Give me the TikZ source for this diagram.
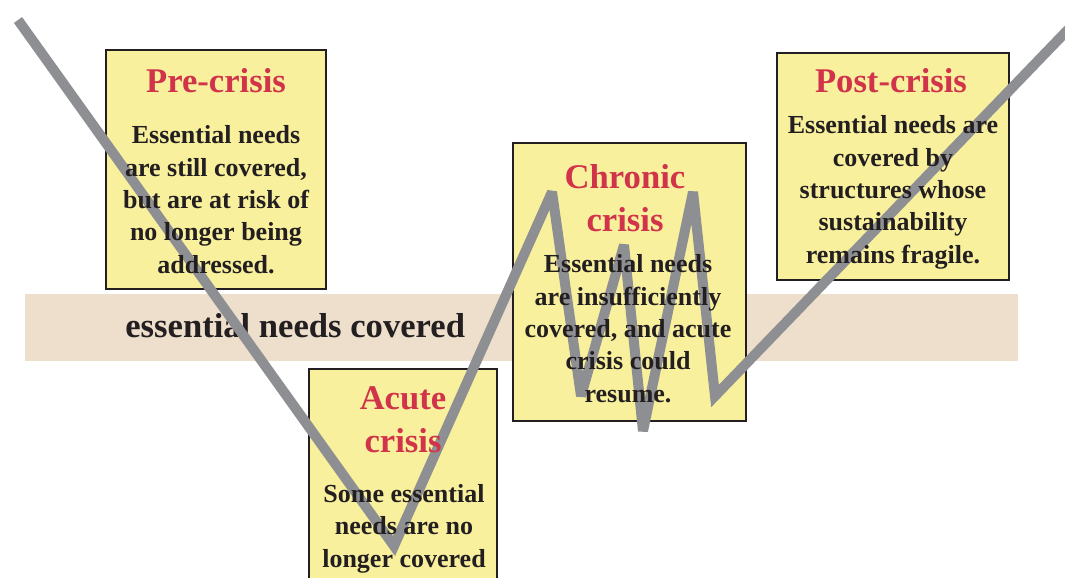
\documentclass[tikz,border=0pt]{standalone}
\usepackage{fontspec}
\setmainfont{Liberation Serif}
\definecolor{crisisred}{RGB}{208,51,74}
\definecolor{noteyellow}{RGB}{248,240,157}
\definecolor{bandbeige}{RGB}{238,223,204}
\definecolor{pathgray}{RGB}{142,143,147}
\definecolor{inkdark}{RGB}{35,31,32}
\tikzset{
  notebox/.style={draw=inkdark, line width=1.1pt, fill=noteyellow, rectangle, inner sep=0pt},
  % multi-line nodes: the base anchor sits on the last line's baseline
  phasetitle/.style={text=crisisred, align=center, anchor=base, inner sep=0pt,
    font=\fontsize{19.7}{24.4}\selectfont\bfseries},
  phasebody/.style={text=inkdark, align=center, anchor=base, inner sep=0pt,
    font=\fontsize{14.8}{18.4}\selectfont\bfseries},
  trend/.style={draw=pathgray, line width=5.7pt, line join=miter, miter limit=2.5}
}
\begin{document}
\begin{tikzpicture}[x=0.02cm, y=-0.02cm]
  \clip (0,0) rectangle (1065,578);
  \fill[white] (0,0) rectangle (1065,578);

  % band of covered needs
  \fill[bandbeige] (25,294) rectangle (1018,361);
  \node[anchor=base west, inner sep=0pt, text=inkdark,
        font=\fontsize{19.7}{24}\selectfont\bfseries] (bandlabel) at (125,337) {essential needs covered};

  % phase boxes
  \path[notebox] (106,50) rectangle (326,289) node[pos=0.5] (pre) {};
  \path[notebox] (309,369) rectangle (497,600) node[pos=0.5] (acute) {};
  \path[notebox] (513,143) rectangle (746,421) node[pos=0.5] (chronic) {};
  \path[notebox] (777,53) rectangle (1009,280) node[pos=0.5] (post) {};

  % trajectory of the crisis
  \coordinate (t0) at (18,20);
  \coordinate (t1) at (394,546);
  \coordinate (t2) at (552,192);
  \coordinate (t3) at (581,396);
  \coordinate (t4) at (624,245);
  \coordinate (t5) at (643,431);
  \coordinate (t6) at (693,192);
  \coordinate (t7) at (715,396);
  \coordinate (t8) at (1085,12);
  \draw[trend] (t0) -- (t1) -- (t2) -- (t3) -- (t4) -- (t5) -- (t6) -- (t7) -- (t8);

  % texts
  \node[phasetitle] (pretitle) at (216,92) {Pre-crisis};
  \node[phasebody] (prebody) at (216,273) {Essential needs\\are still covered,\\but are at risk of\\no longer being\\addressed.};

  \node[phasetitle] (acutetitle) at (403,452) {Acute\\crisis};
  \node[phasebody] (acutebody) at (404,567) {Some essential\\needs are no\\longer covered};

  \node[phasetitle] (chronictitle) at (625,231) {Chronic\\crisis};
  \node[phasebody] (chronicbody) at (628,402) {Essential needs\\are insufficiently\\covered, and acute\\crisis could\\resume.};

  \node[phasetitle] (posttitle) at (891,92) {Post-crisis};
  \node[phasebody] (postbody) at (893,263) {Essential needs are\\covered by\\structures whose\\sustainability\\remains fragile.};
\end{tikzpicture}
\end{document}
